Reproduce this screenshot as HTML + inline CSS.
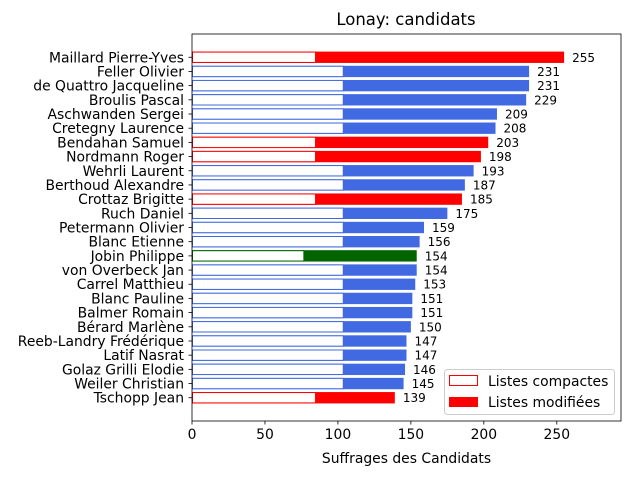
<!DOCTYPE html>
<html><head><meta charset="utf-8"><style>
html,body{margin:0;padding:0;background:#fff;}
svg{display:block;font-family:"DejaVu Sans","Liberation Sans",sans-serif;}
</style></head><body>
<svg id="chart" width="640" height="480" xmlns="http://www.w3.org/2000/svg">
<rect width="640" height="480" fill="#fff"/>
<text x="406" y="25" text-anchor="middle" font-size="16.5" fill="#000">Lonay: candidats</text>
<g id="bars"></g>
<g id="axes"></g>
</svg>
<script>
const names = ["Maillard Pierre-Yves","Feller Olivier","de Quattro Jacqueline","Broulis Pascal","Aschwanden Sergei","Cretegny Laurence","Bendahan Samuel","Nordmann Roger","Wehrli Laurent","Berthoud Alexandre","Crottaz Brigitte","Ruch Daniel","Petermann Olivier","Blanc Etienne","Jobin Philippe","von Overbeck Jan","Carrel Matthieu","Blanc Pauline","Balmer Romain","Bérard Marlène","Reeb-Landry Frédérique","Latif Nasrat","Golaz Grilli Elodie","Weiler Christian","Tschopp Jean"];
const totals = [255,231,231,229,209,208,203,198,193,187,185,175,159,156,154,154,153,151,151,150,147,147,146,145,139];
const compact = [85,104,104,104,104,104,85,85,104,104,85,104,104,104,77,104,104,104,104,104,104,104,104,104,85];
const party = ["r","b","b","b","b","b","r","r","b","b","r","b","b","b","g","b","b","b","b","b","b","b","b","b","r"];
const xTicks = [0,50,100,150,200,250];
const colors = {r:"#ff0000",b:"#4169e1",g:"#006400"};
const L=192,R=621,T=34,B=421;
const xMax=294;
const n=names.length;
const x=v=>L+v*(R-L)/xMax;
const yc=i=>{const lo=-0.4-0.05*(n-0.2),hi=(n-1)+0.4+0.05*(n-0.2);return T+(i-lo)*(B-T)/(hi-lo);};
const bh=0.8*(yc(1)-yc(0));
const NS="http://www.w3.org/2000/svg";
const bars=document.getElementById('bars'),axes=document.getElementById('axes');
function mk(tag,attrs,parent){const e=document.createElementNS(NS,tag);for(const k in attrs)e.setAttribute(k,attrs[k]);parent.appendChild(e);return e;}
for(let i=0;i<n;i++){
  const c=colors[party[i]];
  const f=mk('rect',{x:x(0),y:yc(i)-bh/2,width:x(totals[i])-x(0),height:bh,fill:c},bars);
  
  
  const w=mk('rect',{x:x(0)+0.5,y:yc(i)-bh/2+0.5,width:x(compact[i])-x(0)-1,height:bh-1,fill:'#fff',stroke:c,'stroke-width':1},bars);
  
  
  const t=mk('text',{x:x(totals[i])+8,y:yc(i)+4.5,'font-size':12,fill:'#000'},bars);
  t.textContent=totals[i];
  
  
  mk('line',{x1:L-3.5,x2:L,y1:yc(i),y2:yc(i),stroke:'#000','stroke-width':0.8},axes);
  const yl=mk('text',{x:L-8,y:yc(i)+5,'font-size':13.9,'text-anchor':'end',fill:'#000'},axes);
  yl.textContent=names[i];
  
  
}
for(const v of xTicks){
  mk('line',{x1:x(v),x2:x(v),y1:B,y2:B+3.5,stroke:'#000','stroke-width':0.8},axes);
  const t=mk('text',{x:x(v),y:B+18,'font-size':13.9,'text-anchor':'middle',fill:'#000'},axes);
  t.textContent=v;
  
  
}
const fr=mk('rect',{x:L,y:T,width:R-L,height:B-T,fill:'none',stroke:'#000','stroke-width':0.8},axes);


const xt=mk('text',{x:(L+R)/2,y:463,'font-size':13.9,'text-anchor':'middle',fill:'#000'},axes);
xt.setAttribute('y','463');
xt.textContent='Suffrages des Candidats';


const lg=mk('g',{},axes);


mk('rect',{x:444.5,y:369.5,width:170,height:45,rx:3,fill:'#fff','fill-opacity':0.8,stroke:'#ccc'},lg);
mk('rect',{x:449.5,y:375.5,width:28,height:10,fill:'#fff',stroke:'#ff0000'},lg);
const l1=mk('text',{x:488,y:386,'font-size':13.9,fill:'#000'},lg);
l1.textContent='Listes compactes';


mk('rect',{x:449,y:397,width:29,height:10,fill:'#ff0000'},lg);
const l2=mk('text',{x:488,y:407,'font-size':13.9,fill:'#000'},lg);
l2.textContent='Listes modifiées';


</script>
</body></html>
